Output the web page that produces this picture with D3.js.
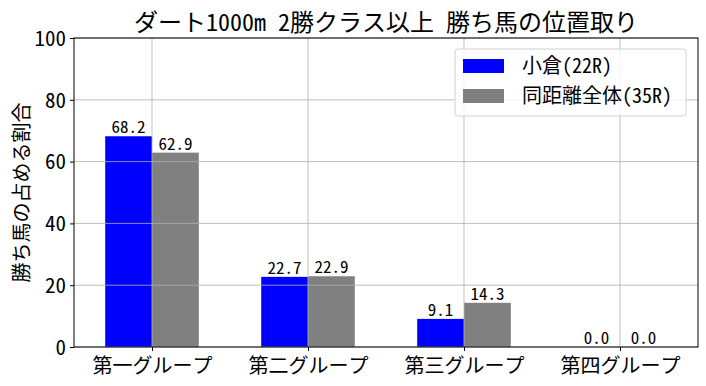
<!DOCTYPE html>
<html><head><meta charset="utf-8">
<script src="https://cdn.jsdelivr.net/npm/d3@7"></script>
<style>body{margin:0;background:#fff}svg{display:block}text{font-family:"Noto Sans Mono CJK JP","Noto Sans CJK JP","Noto Sans",sans-serif}</style>
</head><body><svg id="c" width="706" height="386"></svg>
<script>
const categories = ["第一グループ","第二グループ","第三グループ","第四グループ"];
const seriesNames = ["小倉(22R)","同距離全体(35R)"];
const kokura = [68.2, 22.7, 9.1, 0.0];
const overall = [62.9, 22.9, 14.3, 0.0];
const yTicks = [0,20,40,60,80,100];
const colors = ["#0000ff","#808080"];
const title = "ダート1000m 2勝クラス以上 勝ち馬の位置取り";
const yLabel = "勝ち馬の占める割合";

const FF = '"Noto Sans Mono CJK JP","Noto Sans CJK JP",sans-serif';
const svg = d3.select("#c");
const L=74,R=698,T=38,B=347;
const x = d3.scaleLinear().domain([-0.5,3.5]).range([L,R]);
const y = d3.scaleLinear().domain([0,100]).range([B,T]);
const bw = x(0.3)-x(0);
const series=[kokura,overall];

// bars
series.forEach((vals,si)=>{
  svg.append("g").selectAll("rect").data(vals).join("rect")
    .attr("x",(d,i)=> si===0 ? x(i)-bw : x(i))
    .attr("y",d=>y(d)).attr("width",bw).attr("height",d=>B-y(d))
    .attr("fill",colors[si]);
});
// grid over bars
const g = svg.append("g");
yTicks.forEach(t=>g.append("line").attr("x1",L).attr("x2",R).attr("y1",y(t)).attr("y2",y(t)).attr("stroke","#b0b0b0").attr("stroke-width",0.8));
categories.forEach((c,i)=>g.append("line").attr("x1",x(i)).attr("x2",x(i)).attr("y1",T).attr("y2",B).attr("stroke","#b0b0b0").attr("stroke-width",0.8));

// value labels
series.forEach((vals,si)=>{
  svg.append("g").selectAll("text").data(vals).join("text")
    .attr("x",(d,i)=> si===0 ? x(i)-bw/2 : x(i)+bw/2)
    .attr("y",d=>y(d)-3).attr("text-anchor","middle").attr("font-size",17)
    .style("font-family",FF)
    .text(d=>d.toFixed(1));
});

// frame
svg.append("rect").attr("x",L).attr("y",T).attr("width",R-L).attr("height",B-T).attr("fill","none").attr("stroke","#000").attr("stroke-width",1);

// axes
const ya = d3.axisLeft(y).tickValues(yTicks).tickSize(4).tickPadding(4);
const yg = svg.append("g").attr("transform",`translate(${L},0)`).call(ya);
yg.select(".domain").remove();
yg.selectAll("text").attr("font-size",21).attr("dy","0.35em").style("font-family",FF);
const xa = d3.axisBottom(x).tickValues([0,1,2,3]).tickFormat(i=>categories[i]).tickSize(4).tickPadding(8);
const xg = svg.append("g").attr("transform",`translate(0,${B})`).call(xa);
xg.select(".domain").remove();
xg.selectAll("text").attr("font-size",20).style("font-family",FF);

// title
svg.append("text").attr("x",(L+R)/2).attr("y",31).attr("text-anchor","middle").attr("font-size",24).style("font-family",FF).text(title);
// y label
svg.append("text").attr("transform",`translate(29,${(T+B)/2}) rotate(-90)`).attr("text-anchor","middle").attr("font-size",20).style("font-family",FF).text(yLabel);

// legend
const lg = svg.append("g");
lg.append("rect").attr("x",455).attr("y",49).attr("width",231).attr("height",67).attr("rx",3).attr("fill","#fff").attr("fill-opacity",0.8).attr("stroke","#d0d0d0");
seriesNames.forEach((n,i)=>{
  lg.append("rect").attr("x",463).attr("y",59+i*30).attr("width",41).attr("height",14).attr("fill",colors[i]);
  lg.append("text").attr("x",522).attr("y",66+i*30).attr("dy","0.35em").attr("font-size",20).style("font-family",FF).text(n);
});
</script></body></html>
